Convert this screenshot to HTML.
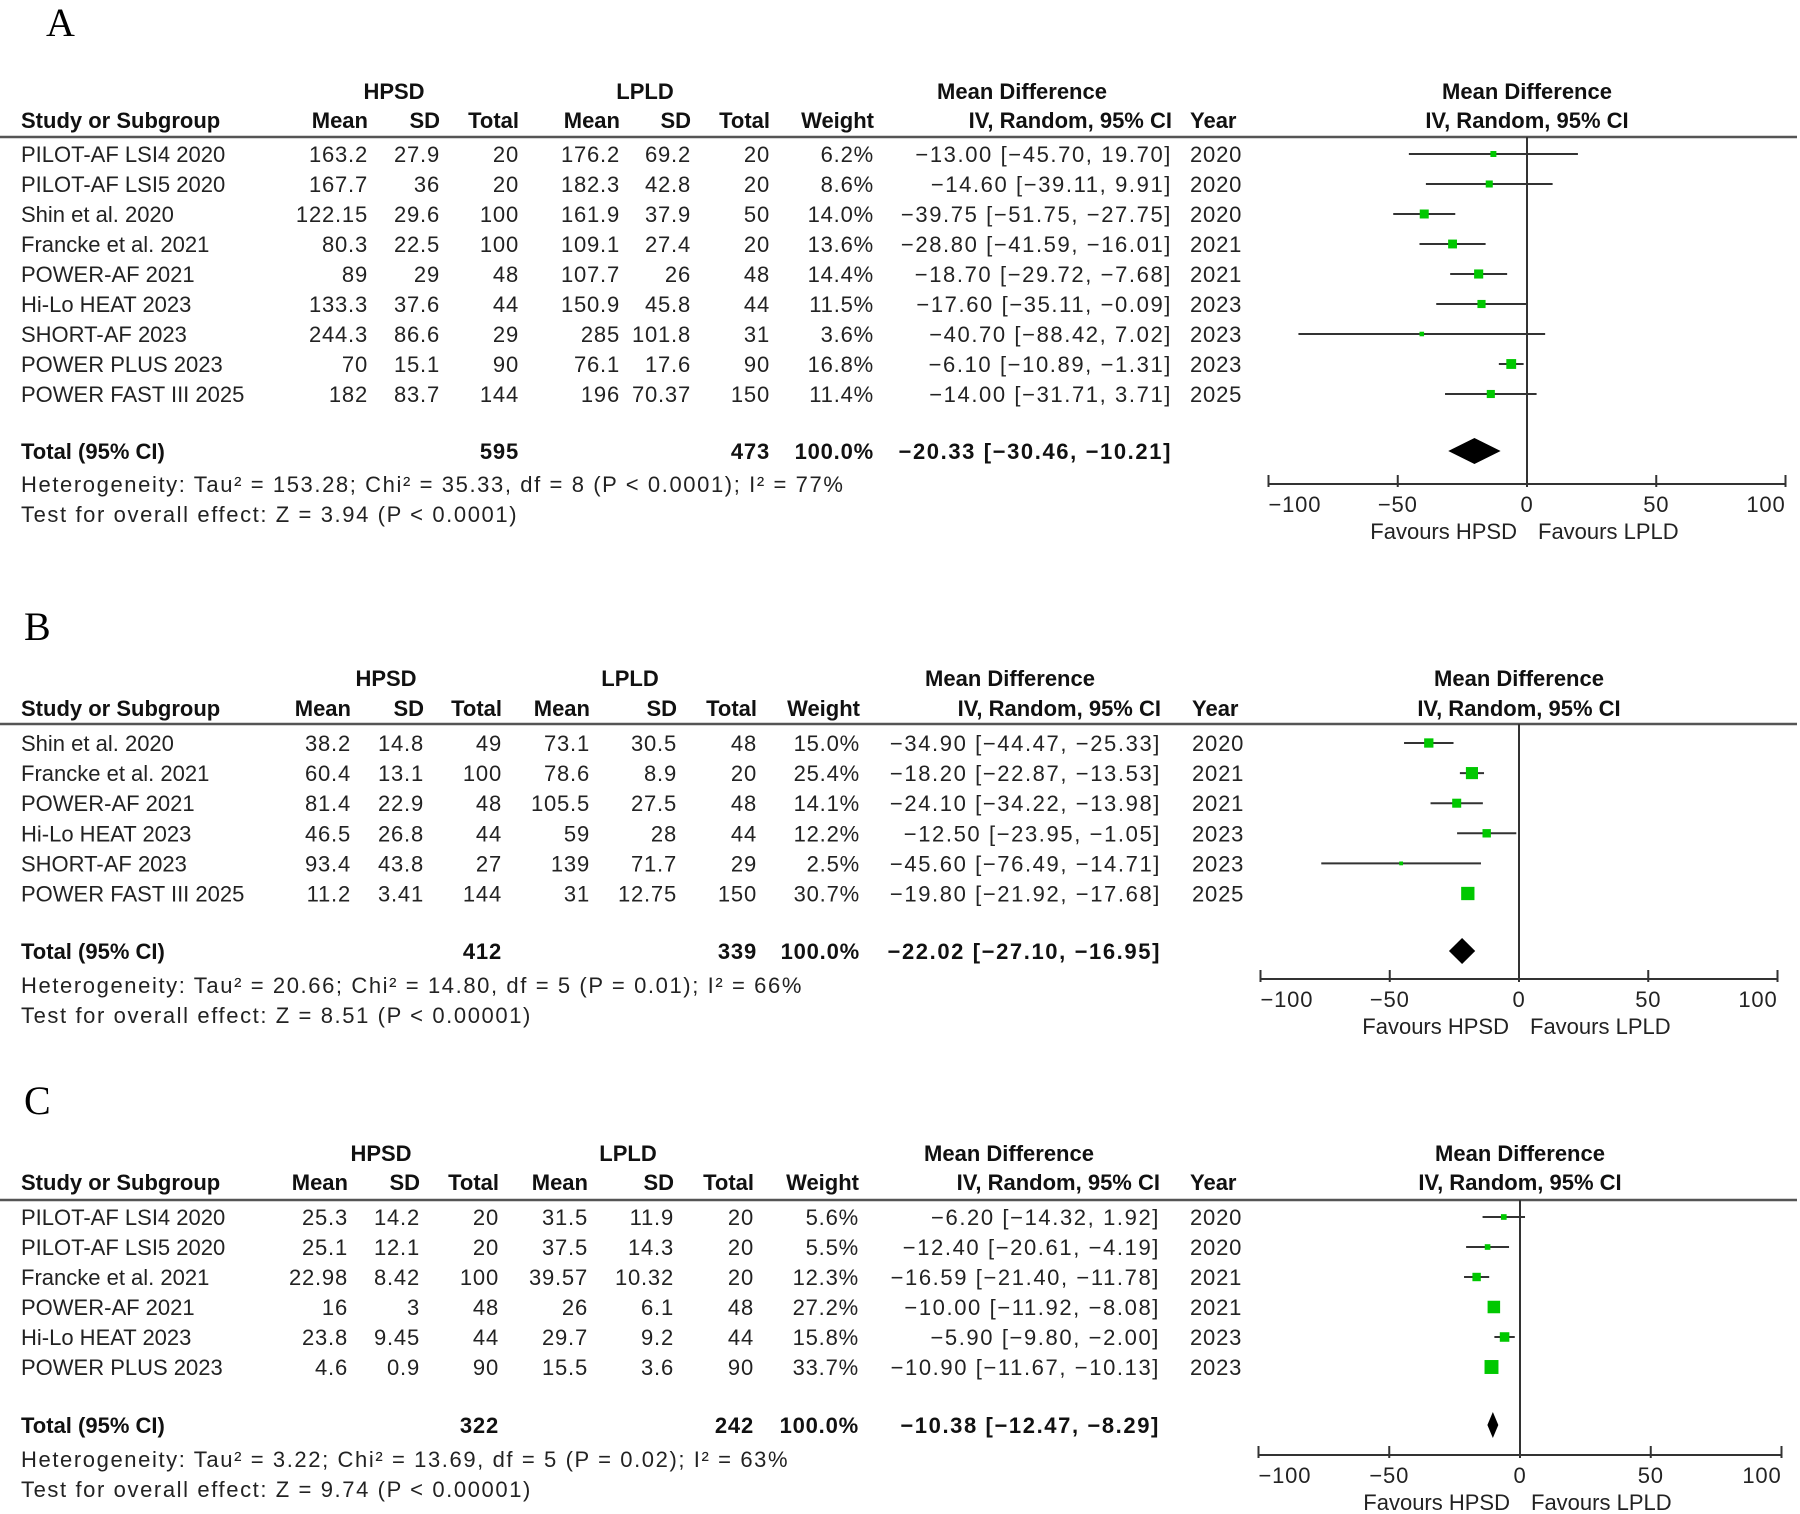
<!DOCTYPE html>
<html><head><meta charset="utf-8">
<style>
html,body{margin:0;padding:0;background:#fff;}
svg{display:block;}
text{font-family:"Liberation Sans",sans-serif;fill:#222;}
.b{font-weight:bold;fill:#111;}
.L{font-family:"Liberation Serif",serif;font-size:40px;fill:#000;}
.n{letter-spacing:0.8px;}
.w{letter-spacing:1.6px;}
</style></head>
<body>
<svg id="fig" width="1800" height="1514" viewBox="0 0 1800 1514" xmlns="http://www.w3.org/2000/svg"></svg>
<script>
// ---- Panel A data ----
const studiesA = ["PILOT-AF LSI4 2020","PILOT-AF LSI5 2020","Shin et al. 2020","Francke et al. 2021","POWER-AF 2021","Hi-Lo HEAT 2023","SHORT-AF 2023","POWER PLUS 2023","POWER FAST III 2025"];
const hMeanA = ["163.2","167.7","122.15","80.3","89","133.3","244.3","70","182"];
const hSdA = ["27.9","36","29.6","22.5","29","37.6","86.6","15.1","83.7"];
const hTotA = ["20","20","100","100","48","44","29","90","144"];
const lMeanA = ["176.2","182.3","161.9","109.1","107.7","150.9","285","76.1","196"];
const lSdA = ["69.2","42.8","37.9","27.4","26","45.8","101.8","17.6","70.37"];
const lTotA = ["20","20","50","20","48","44","31","90","150"];
const weightA = [6.2,8.6,14.0,13.6,14.4,11.5,3.6,16.8,11.4];
const mdA = [-13.00,-14.60,-39.75,-28.80,-18.70,-17.60,-40.70,-6.10,-14.00];
const loA = [-45.70,-39.11,-51.75,-41.59,-29.72,-35.11,-88.42,-10.89,-31.71];
const hiA = [19.70,9.91,-27.75,-16.01,-7.68,-0.09,7.02,-1.31,3.71];
const yearA = ["2020","2020","2020","2021","2021","2023","2023","2023","2025"];
const totalA = {h:"595",l:"473",md:-20.33,lo:-30.46,hi:-10.21};
const hetA = "Heterogeneity: Tau² = 153.28; Chi² = 35.33, df = 8 (P < 0.0001); I² = 77%";
const testA = "Test for overall effect: Z = 3.94 (P < 0.0001)";
// ---- Panel B data ----
const studiesB = ["Shin et al. 2020","Francke et al. 2021","POWER-AF 2021","Hi-Lo HEAT 2023","SHORT-AF 2023","POWER FAST III 2025"];
const hMeanB = ["38.2","60.4","81.4","46.5","93.4","11.2"];
const hSdB = ["14.8","13.1","22.9","26.8","43.8","3.41"];
const hTotB = ["49","100","48","44","27","144"];
const lMeanB = ["73.1","78.6","105.5","59","139","31"];
const lSdB = ["30.5","8.9","27.5","28","71.7","12.75"];
const lTotB = ["48","20","48","44","29","150"];
const weightB = [15.0,25.4,14.1,12.2,2.5,30.7];
const mdB = [-34.90,-18.20,-24.10,-12.50,-45.60,-19.80];
const loB = [-44.47,-22.87,-34.22,-23.95,-76.49,-21.92];
const hiB = [-25.33,-13.53,-13.98,-1.05,-14.71,-17.68];
const yearB = ["2020","2021","2021","2023","2023","2025"];
const totalB = {h:"412",l:"339",md:-22.02,lo:-27.10,hi:-16.95};
const hetB = "Heterogeneity: Tau² = 20.66; Chi² = 14.80, df = 5 (P = 0.01); I² = 66%";
const testB = "Test for overall effect: Z = 8.51 (P < 0.00001)";
// ---- Panel C data ----
const studiesC = ["PILOT-AF LSI4 2020","PILOT-AF LSI5 2020","Francke et al. 2021","POWER-AF 2021","Hi-Lo HEAT 2023","POWER PLUS 2023"];
const hMeanC = ["25.3","25.1","22.98","16","23.8","4.6"];
const hSdC = ["14.2","12.1","8.42","3","9.45","0.9"];
const hTotC = ["20","20","100","48","44","90"];
const lMeanC = ["31.5","37.5","39.57","26","29.7","15.5"];
const lSdC = ["11.9","14.3","10.32","6.1","9.2","3.6"];
const lTotC = ["20","20","20","48","44","90"];
const weightC = [5.6,5.5,12.3,27.2,15.8,33.7];
const mdC = [-6.20,-12.40,-16.59,-10.00,-5.90,-10.90];
const loC = [-14.32,-20.61,-21.40,-11.92,-9.80,-11.67];
const hiC = [1.92,-4.19,-11.78,-8.08,-2.00,-10.13];
const yearC = ["2020","2020","2021","2021","2023","2023"];
const totalC = {h:"322",l:"242",md:-10.38,lo:-12.47,hi:-8.29};
const hetC = "Heterogeneity: Tau² = 3.22; Chi² = 13.69, df = 5 (P = 0.02); I² = 63%";
const testC = "Test for overall effect: Z = 9.74 (P < 0.00001)";
const tickVals = [-100,-50,0,50,100];
const tickLabels = ["−100","−50","0","50","100"];

const NS="http://www.w3.org/2000/svg";
const svg=document.getElementById('fig');
function el(tag,attrs,parent){const e=document.createElementNS(NS,tag);for(const k in attrs)e.setAttribute(k,attrs[k]);(parent||svg).appendChild(e);return e;}
function txt(s,x,y,anchor,cls,size,parent,name){
  const t=el('text',{x:x,y:y+8,'text-anchor':anchor,'font-size':size||22},parent);
  if(cls)t.setAttribute('class',cls);
  
  
  t.textContent=s;return t;}
function fmt(v){return (v<0?'−':'')+Math.abs(v).toFixed(2);}
function ciStr(m,l,h){return fmt(m)+' ['+fmt(l)+', '+fmt(h)+']';}

function panel(P,d){
  const g=el('g',{});
  
  
  const t0=el('text',{x:P.letterX,y:P.letterY,class:'L'},g);
  
  
  t0.textContent=P.letter;
  const c=P.cols;
  const X=v=>P.zero+v*P.unit;
  txt('HPSD',P.hpsdC,P.h1,'middle','b',22,g,'hpsd-header');
  txt('LPLD',P.lpldC,P.h1,'middle','b',22,g,'lpld-header');
  txt('Mean Difference',P.mdC,P.h1,'middle','b',22,g,'md-header');
  txt('Mean Difference',P.zero,P.h1,'middle','b',22,g,'plot-md-header');
  txt('Study or Subgroup',21,P.h2,'start','b',22,g,'study-header');
  const hn=['Mean','SD','Total','Mean','SD','Total','Weight','IV, Random, 95% CI'];
  hn.forEach((s,i)=>txt(s,c[i],P.h2,'end','b',22,g,'column-header'));
  txt('Year',P.yearX,P.h2,'start','b',22,g,'year-header');
  txt('IV, Random, 95% CI',P.zero,P.h2,'middle','b',22,g,'plot-ci-header');
  const hl=el('line',{x1:0,x2:1797,y1:P.line,y2:P.line,stroke:'#555','stroke-width':2.5},g);
  
  
  const zl=el('line',{x1:X(0),x2:X(0),y1:P.line,y2:P.axisY,stroke:'#333','stroke-width':2},g);
  
  
  d.studies.forEach((s,i)=>{
    const y=P.r0+i*P.dy;
    txt(s,21,y,'start','',22,g,'study-name');
    const vals=[d.hm[i],d.hs[i],d.ht[i],d.lm[i],d.ls[i],d.lt[i],d.w[i].toFixed(1)+'%',ciStr(d.md[i],d.lo[i],d.hi[i])];
    vals.forEach((v,j)=>txt(v,c[j],y,'end',j===7?'w':'n',22,g,'cell-value'));
    txt(d.yr[i],P.yearX,y,'start','n',22,g,'year-value');
    const wl=el('line',{x1:X(d.lo[i]),x2:X(d.hi[i]),y1:y,y2:y,stroke:'#333','stroke-width':2},g);
    
    
    const sz=2.4*Math.sqrt(d.w[i]);
    const sq=el('rect',{x:X(d.md[i])-sz/2,y:y-sz/2,width:sz,height:sz,fill:'#00c800'},g);
    
    
  });
  txt('Total (95% CI)',21,P.tot,'start','b',22,g,'total-label');
  txt(d.tot.h,c[2],P.tot,'end','b n',22,g,'total-hpsd');
  txt(d.tot.l,c[5],P.tot,'end','b n',22,g,'total-lpld');
  txt('100.0%',c[6],P.tot,'end','b n',22,g,'total-weight');
  txt(ciStr(d.tot.md,d.tot.lo,d.tot.hi),c[7],P.tot,'end','b w',22,g,'total-ci');
  const dh=13;
  const dm=el('polygon',{points:`${X(d.tot.lo)},${P.tot} ${X(d.tot.md)},${P.tot-dh} ${X(d.tot.hi)},${P.tot} ${X(d.tot.md)},${P.tot+dh}`,fill:'#000'},g);
  
  
  txt(d.het,21,P.het,'start','w',22,g,'heterogeneity-text');
  txt(d.test,21,P.test,'start','w',22,g,'overall-effect-text');
  const ax=el('line',{x1:X(-100),x2:X(100),y1:P.axisY,y2:P.axisY,stroke:'#333','stroke-width':2},g);
  
  
  tickVals.forEach((v,i)=>{
    const tk=el('line',{x1:X(v),x2:X(v),y1:P.axisY-9,y2:P.axisY+3,stroke:'#333','stroke-width':2},g);
    
    
    const anc=i===0?'start':(i===tickVals.length-1?'end':'middle');
    txt(tickLabels[i],X(v),P.axisY+20,anc,'n',22,g,'x-tick-label');
  });
  txt('Favours HPSD',X(0)-10,P.axisY+47,'end','',22,g,'favours-hpsd');
  txt('Favours LPLD',X(0)+11,P.axisY+47,'start','',22,g,'favours-lpld');
}

panel({letter:'A',letterX:46,letterY:36,h1:91,h2:120,line:137,r0:154,dy:30,tot:451,het:484,test:514,axisY:484,
  cols:[368,440,519,620,691,770,874,1172],yearX:1190,hpsdC:394,lpldC:645,mdC:1022,zero:1527,unit:2.585},
  {studies:studiesA,hm:hMeanA,hs:hSdA,ht:hTotA,lm:lMeanA,ls:lSdA,lt:lTotA,w:weightA,md:mdA,lo:loA,hi:hiA,yr:yearA,tot:totalA,het:hetA,test:testA});
panel({letter:'B',letterX:24,letterY:640,h1:678,h2:708,line:724,r0:743,dy:30.1,tot:951,het:985,test:1015,axisY:979,
  cols:[351,424,502,590,677,757,860,1161],yearX:1192,hpsdC:386,lpldC:630,mdC:1010,zero:1519,unit:2.585},
  {studies:studiesB,hm:hMeanB,hs:hSdB,ht:hTotB,lm:lMeanB,ls:lSdB,lt:lTotB,w:weightB,md:mdB,lo:loB,hi:hiB,yr:yearB,tot:totalB,het:hetB,test:testB});
panel({letter:'C',letterX:24,letterY:1114,h1:1153,h2:1182,line:1200,r0:1217,dy:30,tot:1425,het:1459,test:1489,axisY:1455,
  cols:[348,420,499,588,674,754,859,1160],yearX:1190,hpsdC:381,lpldC:628,mdC:1009,zero:1520,unit:2.615},
  {studies:studiesC,hm:hMeanC,hs:hSdC,ht:hTotC,lm:lMeanC,ls:lSdC,lt:lTotC,w:weightC,md:mdC,lo:loC,hi:hiC,yr:yearC,tot:totalC,het:hetC,test:testC});
</script>
</body></html>
